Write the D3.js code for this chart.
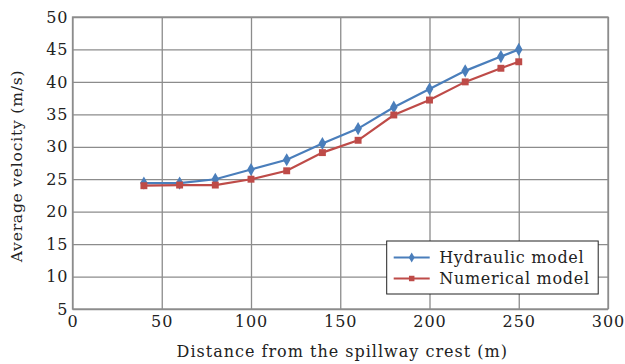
<!DOCTYPE html>
<html>
<head>
<meta charset="utf-8">
<script src="https://cdn.jsdelivr.net/npm/d3@7"></script>
<style>
  body { margin: 0; background: #fff; }
  #chart text { font-family: "DejaVu Serif", serif; fill: #222; }
</style>
</head>
<body>
<div id="chart"><svg></svg></div>
<script>
var distance = [40, 60, 80, 100, 120, 140, 160, 180, 200, 220, 240, 250];
var hydraulic = [24.4, 24.4, 25.0, 26.5, 28.0, 30.5, 32.8, 36.1, 38.9, 41.7, 43.9, 45.0];
var numerical = [24.0, 24.1, 24.1, 25.0, 26.3, 29.1, 31.0, 34.9, 37.2, 40.0, 42.1, 43.1];
var xTicks = [0, 50, 100, 150, 200, 250, 300];
var yTicks = [5, 10, 15, 20, 25, 30, 35, 40, 45, 50];
var seriesNames = ["Hydraulic model", "Numerical model"];

var margin = { top: 17, right: 17, bottom: 55, left: 72.5 };
var W = 625, H = 364;
var width = W - margin.left - margin.right;
var height = H - margin.top - margin.bottom;

var xScale = d3.scaleLinear().domain([0, 300]).range([0, width]);
var yScale = d3.scaleLinear().domain([5, 50]).range([height, 0]);

var svg = d3.select("#chart svg").
  attr("width", W).
  attr("height", H).
  append("g").
  attr("transform", "translate(" + margin.left + "," + margin.top + ")");

var xAxis = d3.axisBottom(xScale).tickValues(xTicks).tickSize(-height).tickPadding(5);
var yAxis = d3.axisLeft(yScale).tickValues(yTicks).tickSize(-width).tickPadding(4);

var gX = svg.append("g").attr("transform", "translate(0," + height + ")").call(xAxis);
var gY = svg.append("g").call(yAxis);

[gX, gY].forEach(function(g) {
  g.select(".domain").remove();
  g.selectAll(".tick line").attr("stroke", "#8c8c8c").attr("stroke-width", 1.3);
  g.selectAll(".tick text").
    attr("font-size", 16).
    attr("letter-spacing", 1).
    style("fill", "#222");
});
gX.selectAll(".tick text").attr("dy", "0.8em");

svg.append("rect").
  attr("width", width).
  attr("height", height).
  attr("fill", "none").
  attr("stroke", "#8c8c8c").
  attr("stroke-width", 1.3);

var series = [
  { name: seriesNames[0], values: hydraulic, color: "#4a7ebb", symbol: d3.symbolDiamond },
  { name: seriesNames[1], values: numerical, color: "#be4b48", symbol: d3.symbolSquare }
];

var line = d3.line().
  x(function(d) { return xScale(d.x); }).
  y(function(d) { return yScale(d.y); });

series.forEach(function(s) {
  var pts = distance.map(function(x, i) { return { x: x, y: s.values[i] }; });
  svg.append("path").
    datum(pts).
    attr("fill", "none").
    attr("stroke", s.color).
    attr("stroke-width", 2.2).
    attr("d", line);
  svg.selectAll(null).
    data(pts).
    enter().append("path").
    attr("transform", function(d) { return "translate(" + xScale(d.x) + "," + yScale(d.y) + ")"; }).
    attr("d", d3.symbol().type(s.symbol).size(s.symbol === d3.symbolSquare ? 48 : 50)).
    attr("fill", s.color);
});

// legend
var legend = svg.append("g").attr("transform", "translate(" + (386.7 - margin.left) + "," + (241 - margin.top) + ")");
legend.append("rect").
  attr("width", 211.5).
  attr("height", 53).
  attr("fill", "#fff").
  attr("stroke", "#222").
  attr("stroke-width", 1);
series.forEach(function(s, i) {
  var y = 16.5 + i * 21;
  legend.append("line").
    attr("x1", 7).attr("x2", 43).
    attr("y1", y).attr("y2", y).
    attr("stroke", s.color).attr("stroke-width", 2.2);
  legend.append("path").
    attr("transform", "translate(25," + y + ")").
    attr("d", d3.symbol().type(s.symbol).size(30)).
    attr("fill", s.color);
  legend.append("text").
    attr("x", 52.5).
    attr("y", y).
    attr("dy", "0.35em").
    attr("font-size", 16).
    attr("letter-spacing", 0.7).
    text(s.name);
});

svg.append("text").
  attr("x", width / 2 + 2).
  attr("y", height + 48).
  attr("text-anchor", "middle").
  attr("font-size", 16).
  attr("letter-spacing", 1).
  text("Distance from the spillway crest (m)");

svg.append("text").
  attr("transform", "translate(" + (17 - margin.left) + "," + (166 - margin.top) + ") rotate(-90)").
  attr("text-anchor", "middle").
  attr("dy", "0.35em").
  attr("font-size", 15.5).
  attr("letter-spacing", 0.8).
  text("Average velocity (m/s)");
</script>
</body>
</html>
